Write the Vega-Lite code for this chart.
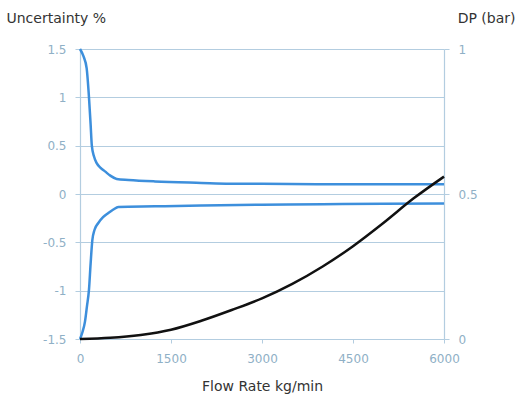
{
  "$schema": "https://vega.github.io/schema/vega-lite/v6.json",
  "width": 364,
  "height": 290,
  "autosize": {"type": "none"},
  "padding": {"left": 80, "top": 49, "right": 80, "bottom": 59},
  "background": "white",
  "config": {
    "view": {"stroke": null},
    "axis": {
      "labelFont": "DejaVu Sans",
      "labelFontSize": 12,
      "labelColor": "#8fb0c6",
      "titleFont": "DejaVu Sans",
      "titleFontSize": 14,
      "titleFontWeight": "normal",
      "titleColor": "#333333",
      "domainColor": "#b3cde0",
      "tickColor": "#b3cde0",
      "gridColor": "#b3cde0",
      "gridOpacity": 1,
      "domainWidth": 1.2,
      "gridWidth": 1.2
    }
  },
  "encoding": {
    "x": {
      "field": "flow",
      "type": "quantitative",
      "scale": {"domain": [0, 6000], "nice": false, "zero": false},
      "axis": {
        "title": "Flow Rate kg/min",
        "values": [0, 1500, 3000, 4500, 6000],
        "labelExpr": "'' + datum.value",
        "grid": false,
        "tickSize": 4,
        "labelPadding": 10,
        "labelFlush": false,
        "titleY": 51,
        "titleBaseline": "alphabetic"
      }
    }
  },
  "layer": [
    {
      "data": {
        "values": [
          {"series": "upper", "flow": 0, "u": 1.5},
          {"series": "upper", "flow": 60, "u": 1.42},
          {"series": "upper", "flow": 110, "u": 1.3},
          {"series": "upper", "flow": 148, "u": 1.0},
          {"series": "upper", "flow": 175, "u": 0.72},
          {"series": "upper", "flow": 195, "u": 0.5},
          {"series": "upper", "flow": 230, "u": 0.39},
          {"series": "upper", "flow": 275, "u": 0.32},
          {"series": "upper", "flow": 340, "u": 0.27},
          {"series": "upper", "flow": 412, "u": 0.234},
          {"series": "upper", "flow": 500, "u": 0.19},
          {"series": "upper", "flow": 605, "u": 0.155},
          {"series": "upper", "flow": 800, "u": 0.145},
          {"series": "upper", "flow": 1236, "u": 0.13},
          {"series": "upper", "flow": 2000, "u": 0.115},
          {"series": "upper", "flow": 2473, "u": 0.107},
          {"series": "upper", "flow": 3000, "u": 0.105},
          {"series": "upper", "flow": 4000, "u": 0.1},
          {"series": "upper", "flow": 5000, "u": 0.1},
          {"series": "upper", "flow": 6000, "u": 0.1},
          {"series": "lower", "flow": 0, "u": -1.5},
          {"series": "lower", "flow": 40, "u": -1.43},
          {"series": "lower", "flow": 82, "u": -1.32},
          {"series": "lower", "flow": 115, "u": -1.16},
          {"series": "lower", "flow": 148, "u": -0.99},
          {"series": "lower", "flow": 175, "u": -0.72},
          {"series": "lower", "flow": 203, "u": -0.48},
          {"series": "lower", "flow": 240, "u": -0.37},
          {"series": "lower", "flow": 302, "u": -0.3},
          {"series": "lower", "flow": 380, "u": -0.24},
          {"series": "lower", "flow": 467, "u": -0.197},
          {"series": "lower", "flow": 550, "u": -0.16},
          {"series": "lower", "flow": 632, "u": -0.134},
          {"series": "lower", "flow": 1236, "u": -0.128},
          {"series": "lower", "flow": 2000, "u": -0.12},
          {"series": "lower", "flow": 3000, "u": -0.11},
          {"series": "lower", "flow": 4000, "u": -0.105},
          {"series": "lower", "flow": 5000, "u": -0.1},
          {"series": "lower", "flow": 6000, "u": -0.097}
        ]
      },
      "mark": {"type": "line", "color": "#3d8fdc", "strokeWidth": 2.5, "interpolate": "monotone"},
      "encoding": {
        "detail": {"field": "series"},
        "y": {
          "field": "u",
          "type": "quantitative",
          "scale": {"domain": [-1.5, 1.5], "nice": false, "zero": false},
          "axis": {
            "orient": "left",
            "title": "Uncertainty %",
            "values": [-1.5, -1, -0.5, 0, 0.5, 1, 1.5],
            "labelExpr": "'' + datum.value",
            "grid": true,
            "tickSize": 5,
            "labelPadding": 9,
            "titleAngle": 0,
            "titleAlign": "left",
            "titleBaseline": "alphabetic",
            "titleX": -74,
            "titleY": -27
          }
        }
      }
    },
    {
      "data": {
        "values": [
          {"flow": 0, "dp": 0},
          {"flow": 500, "dp": 0.004},
          {"flow": 1000, "dp": 0.014},
          {"flow": 1500, "dp": 0.032},
          {"flow": 2000, "dp": 0.063},
          {"flow": 2500, "dp": 0.1},
          {"flow": 3000, "dp": 0.14},
          {"flow": 3500, "dp": 0.19},
          {"flow": 4000, "dp": 0.25},
          {"flow": 4500, "dp": 0.32},
          {"flow": 5000, "dp": 0.4},
          {"flow": 5500, "dp": 0.485},
          {"flow": 6000, "dp": 0.56}
        ]
      },
      "mark": {"type": "line", "color": "#111111", "strokeWidth": 2.5, "interpolate": "monotone"},
      "encoding": {
        "y": {
          "field": "dp",
          "type": "quantitative",
          "scale": {"domain": [0, 1], "nice": false, "zero": false},
          "axis": {
            "orient": "right",
            "title": "DP (bar)",
            "values": [0, 0.5, 1],
            "labelExpr": "'' + datum.value",
            "grid": false,
            "tickSize": 5,
            "labelPadding": 9,
            "titleAngle": 0,
            "titleAlign": "right",
            "titleBaseline": "alphabetic",
            "titleX": 71,
            "titleY": -27
          }
        }
      }
    }
  ],
  "resolve": {"scale": {"y": "independent"}}
}
